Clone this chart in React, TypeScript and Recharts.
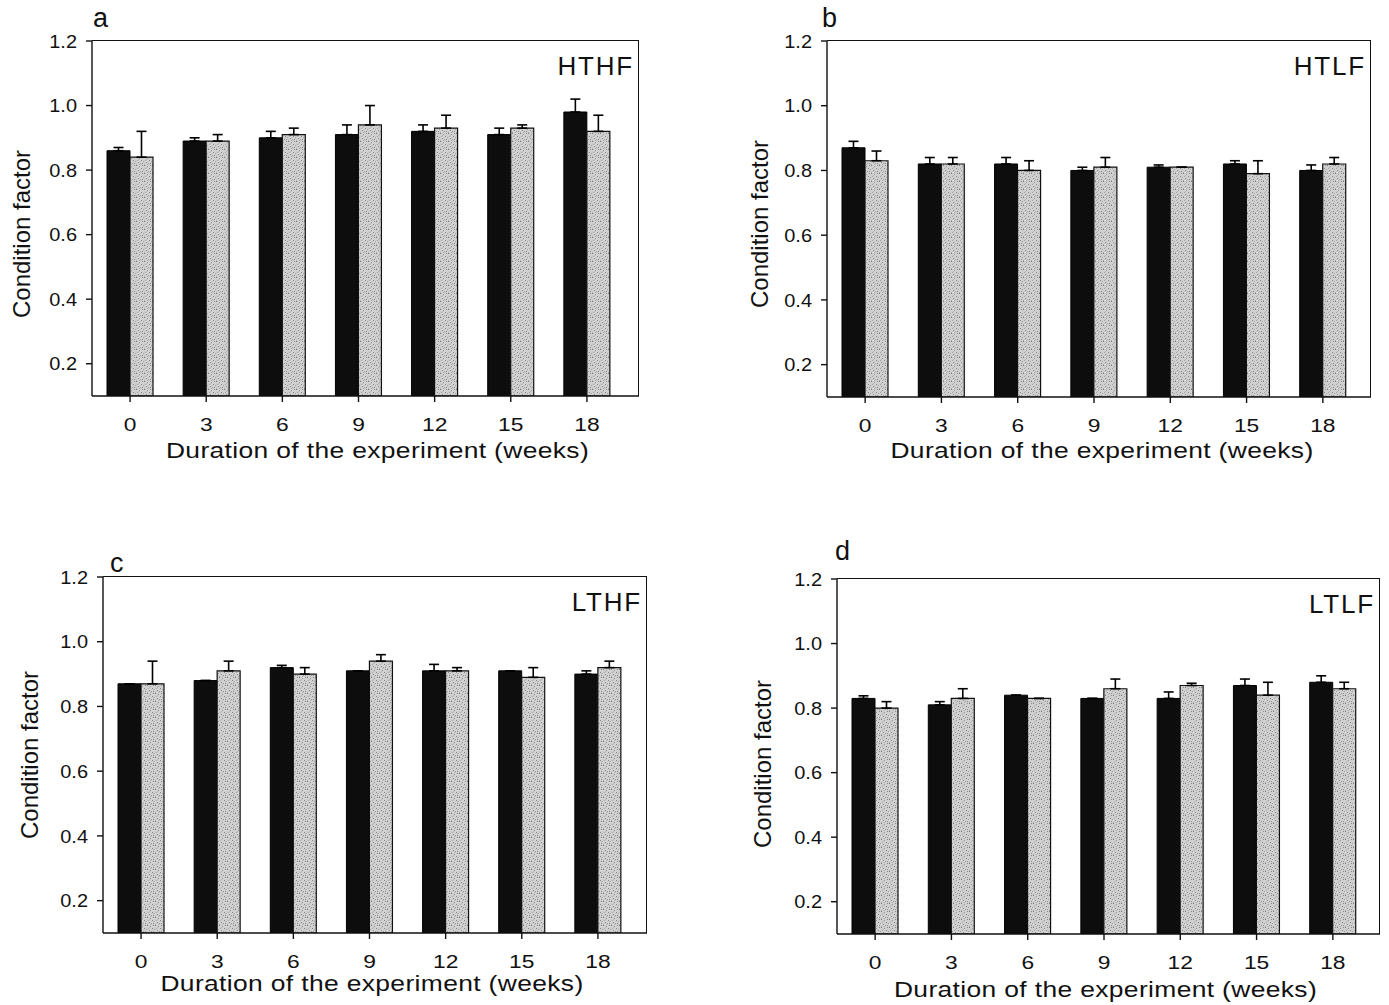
import React from "react";
import { Bar, BarChart, ErrorBar, XAxis, YAxis } from "recharts";

const weeks = ["0", "3", "6", "9", "12", "15", "18"];
const yTicks = [0.2, 0.4, 0.6, 0.8, 1.0, 1.2];

// panel a - HTHF
const htHfDark = [0.86, 0.89, 0.9, 0.91, 0.92, 0.91, 0.98];
const htHfDarkErr = [0.01, 0.01, 0.02, 0.03, 0.02, 0.02, 0.04];
const htHfLight = [0.84, 0.89, 0.91, 0.94, 0.93, 0.93, 0.92];
const htHfLightErr = [0.08, 0.02, 0.02, 0.06, 0.04, 0.01, 0.05];

// panel b - HTLF
const htLfDark = [0.87, 0.82, 0.82, 0.8, 0.81, 0.82, 0.8];
const htLfDarkErr = [0.02, 0.02, 0.02, 0.01, 0.007, 0.01, 0.017];
const htLfLight = [0.83, 0.82, 0.8, 0.81, 0.81, 0.79, 0.82];
const htLfLightErr = [0.03, 0.02, 0.03, 0.03, 0, 0.04, 0.02];

// panel c - LTHF
const ltHfDark = [0.87, 0.88, 0.92, 0.91, 0.91, 0.91, 0.9];
const ltHfDarkErr = [0, 0, 0.007, 0, 0.02, 0, 0.01];
const ltHfLight = [0.87, 0.91, 0.9, 0.94, 0.91, 0.89, 0.92];
const ltHfLightErr = [0.07, 0.03, 0.02, 0.02, 0.01, 0.03, 0.02];

// panel d - LTLF
const ltLfDark = [0.83, 0.81, 0.84, 0.83, 0.83, 0.87, 0.88];
const ltLfDarkErr = [0.008, 0.01, 0, 0, 0.02, 0.02, 0.02];
const ltLfLight = [0.8, 0.83, 0.83, 0.86, 0.87, 0.84, 0.86];
const ltLfLightErr = [0.02, 0.03, 0, 0.03, 0.007, 0.04, 0.02];

const font = "'Liberation Sans', Arial, Helvetica, sans-serif";
const INK = "#111";
// the scanned lettering is a bit wider than plain Arial
const STRETCH = 1.2;

function XTick(props: any) {
  const { x, y, payload } = props;
  return (
    <text
      transform={`translate(${x},${y}) scale(${STRETCH},1)`}
      textAnchor="middle"
      dy="0.75em"
      fontSize={19}
      fontFamily={font}
      fill={INK}
    >
      {payload.value}
    </text>
  );
}

function YTick(props: any) {
  const { x, y, payload } = props;
  return (
    <text
      transform={`translate(${x},${y}) scale(1.05,1)`}
      textAnchor="end"
      dy="0.35em"
      fontSize={19}
      fontFamily={font}
      fill={INK}
    >
      {Number(payload.value).toFixed(1)}
    </text>
  );
}

type PanelProps = {
  letter: string;
  tag: string;
  dark: number[];
  darkErr: number[];
  light: number[];
  lightErr: number[];
  plotLeft: number;
  plotTop: number;
  plotW: number;
  plotH: number;
  padRight: number;
  xTitleY: number;
  xTitleShift: number;
  yTitleX: number;
  yTitleCenter: number;
  letterPos: [number, number];
};

const Y_W = 60;
const X_H = 60;
const M_TOP = 12;
const M_RIGHT = 12;

const label = {
  position: "absolute" as const,
  fontFamily: font,
  color: INK,
  whiteSpace: "pre" as const,
};

function Panel(p: PanelProps) {
  const data = weeks.map((w, i) => ({
    week: w,
    dark: p.dark[i],
    darkErr: [0, p.darkErr[i]],
    light: p.light[i],
    lightErr: [0, p.lightErr[i]],
  }));
  return (
    <>
      <div style={{ position: "absolute", left: p.plotLeft - Y_W, top: p.plotTop - M_TOP }}>
        <BarChart
          width={Y_W + p.plotW + M_RIGHT}
          height={M_TOP + p.plotH + X_H}
          data={data}
          margin={{ top: M_TOP, right: M_RIGHT, bottom: 0, left: 0 }}
          barGap={0}
          barSize={23}
        >
          <XAxis
            dataKey="week"
            stroke={INK}
            strokeWidth={1.4}
            tick={<XTick />}
            tickSize={6}
            tickMargin={15}
            height={X_H}
            padding={{ left: 0, right: p.padRight }}
          />
          <YAxis
            domain={[0.1, 1.2]}
            ticks={yTicks}
            allowDataOverflow
            stroke={INK}
            strokeWidth={1.4}
            tick={<YTick />}
            tickSize={6}
            tickMargin={9}
            width={Y_W}
          />
          <Bar dataKey="dark" fill="#0d0d0d" stroke="#000" strokeWidth={1} isAnimationActive={false}>
            <ErrorBar dataKey="darkErr" width={5} stroke="#000" strokeWidth={1.6} direction="y" isAnimationActive={false} />
          </Bar>
          <Bar dataKey="light" fill="url(#stipple)" stroke={INK} strokeWidth={1.2} isAnimationActive={false}>
            <ErrorBar dataKey="lightErr" width={5} stroke="#000" strokeWidth={1.6} direction="y" isAnimationActive={false} />
          </Bar>
        </BarChart>
      </div>
      {/* top and right frame lines of the plot box */}
      <div
        style={{
          position: "absolute",
          left: p.plotLeft,
          top: p.plotTop - 1,
          width: p.plotW - 1,
          height: p.plotH,
          borderTop: `1.4px solid ${INK}`,
          borderRight: `1.4px solid ${INK}`,
          pointerEvents: "none",
        }}
      />
      <div
        style={{
          ...label,
          left: p.plotLeft + p.plotW - 300,
          width: 295,
          top: p.plotTop + 10,
          textAlign: "right",
          fontSize: 26,
          letterSpacing: 1.8,
        }}
      >
        {p.tag}
      </div>
      <div style={{ ...label, left: p.letterPos[0], top: p.letterPos[1], fontSize: 27 }}>{p.letter}</div>
      <div
        style={{
          ...label,
          left: p.plotLeft + p.xTitleShift,
          width: p.plotW,
          top: p.xTitleY,
          textAlign: "center",
          fontSize: 22,
          letterSpacing: 0.3,
          transform: `scaleX(${STRETCH})`,
        }}
      >
        {"Duration of the experiment (weeks)"}
      </div>
      <div
        style={{
          ...label,
          left: p.yTitleX - 150,
          width: 300,
          top: p.yTitleCenter - 14,
          textAlign: "center",
          fontSize: 24,
          transform: "rotate(-90deg)",
        }}
      >
        Condition factor
      </div>
    </>
  );
}

function Stipple() {
  // irregular dot texture like the scanned grey fill
  const dots = [
    [0, 0, "#7d7d7d"], [3, 1, "#999"], [6, 0, "#8a8a8a"], [1, 3, "#a5a5a5"],
    [5, 3, "#858585"], [7, 4, "#a0a0a0"], [2, 5, "#8c8c8c"], [4, 6, "#9a9a9a"],
    [0, 7, "#a8a8a8"], [6, 6, "#8f8f8f"], [3, 7, "#b0b0b0"], [2, 2, "#b5b5b5"],
  ] as const;
  return (
    <svg width={0} height={0} style={{ position: "absolute" }}>
      <defs>
        <pattern id="stipple" width={8} height={8} patternUnits="userSpaceOnUse">
          <rect width={8} height={8} fill="#d0d0d0" />
          {dots.map(([x, y, c], i) => (
            <rect key={i} x={x} y={y} width={1} height={1} fill={c} />
          ))}
        </pattern>
      </defs>
    </svg>
  );
}

export default function App() {
  return (
    <div
      style={{
        position: "absolute",
        left: 0,
        top: 0,
        width: 1389,
        height: 1005,
        background: "#fff",
        overflow: "hidden",
      }}
    >
      <Stipple />
      <Panel
        letter="a"
        tag="HTHF"
        dark={htHfDark}
        darkErr={htHfDarkErr}
        light={htHfLight}
        lightErr={htHfLightErr}
        plotLeft={92}
        plotTop={41}
        plotW={547}
        plotH={355}
        padRight={14}
        xTitleY={438}
        xTitleShift={12}
        yTitleX={22}
        yTitleCenter={234}
        letterPos={[93, 3]}
      />
      <Panel
        letter="b"
        tag="HTLF"
        dark={htLfDark}
        darkErr={htLfDarkErr}
        light={htLfLight}
        lightErr={htLfLightErr}
        plotLeft={827}
        plotTop={41}
        plotW={544}
        plotH={356}
        padRight={10}
        xTitleY={438}
        xTitleShift={3}
        yTitleX={760}
        yTitleCenter={224}
        letterPos={[822, 3]}
      />
      <Panel
        letter="c"
        tag="LTHF"
        dark={ltHfDark}
        darkErr={ltHfDarkErr}
        light={ltHfLight}
        lightErr={ltHfLightErr}
        plotLeft={103}
        plotTop={577}
        plotW={544}
        plotH={356}
        padRight={11}
        xTitleY={971}
        xTitleShift={-3}
        yTitleX={30}
        yTitleCenter={755}
        letterPos={[110, 548]}
      />
      <Panel
        letter="d"
        tag="LTLF"
        dark={ltLfDark}
        darkErr={ltLfDarkErr}
        light={ltLfLight}
        lightErr={ltLfLightErr}
        plotLeft={837}
        plotTop={579}
        plotW={543}
        plotH={355}
        padRight={9}
        xTitleY={977}
        xTitleShift={-3}
        yTitleX={763}
        yTitleCenter={764}
        letterPos={[835, 536]}
      />
    </div>
  );
}
